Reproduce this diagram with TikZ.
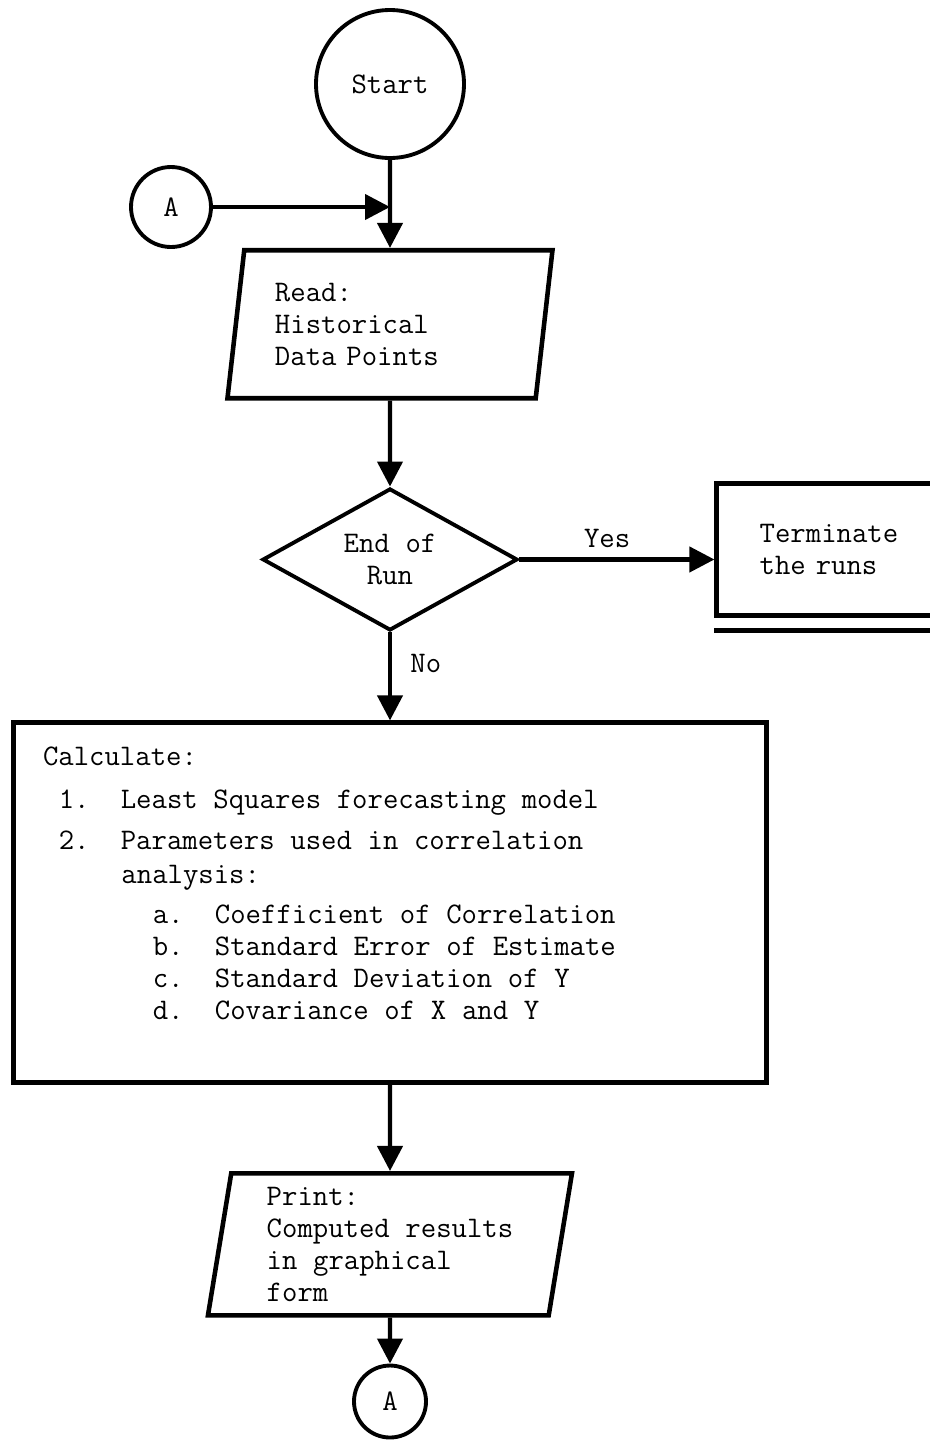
\documentclass[tikz,border=0pt]{standalone}
\usepackage{fontspec}
\usetikzlibrary{arrows.meta,positioning,shapes.geometric}
\newcommand\flowfont{\ttfamily\fontsize{17}{18.2}\selectfont\spaceskip 0.525em\relax}

\begin{document}
\begin{tikzpicture}[
    every node/.style={font=\flowfont},
    box/.style={draw, line width=2.6pt, inner sep=0pt},
    endpoint/.style={circle, draw, line width=2.2pt, inner sep=0pt},
    io/.style={trapezium, trapezium left angle=78.5, trapezium right angle=101.5,
      trapezium stretches body, draw, line width=2.6pt, inner sep=0pt, align=left},
    decision/.style={diamond, draw, line width=2.2pt, inner sep=0pt, aspect=1.8, align=center},
    flow/.style={-{Triangle[length=0.5cm,width=0.5cm]}, line width=2.4pt}
  ]
  \useasboundingbox (0,0) rectangle (18.6,-28.86);
  \clip (0,0) rectangle (18.6,-28.86);

  \node[endpoint, minimum size=2.96cm] (start) at (7.8,-1.68) {Start};
  \node[endpoint, minimum size=1.6cm] (conA) at (3.42,-4.14) {A};
  \node[io, below=1.76cm of start, minimum width=6.5cm, minimum height=2.96cm,
    text width=4.6cm] (read) {Read:\\Historical\\Data Points};
  \node[decision, below=1.72cm of read, minimum width=5.1cm, minimum height=2.84cm] (eor) {End of\\Run};
  \node[box, right=3.9cm of eor, yshift=0.2cm, minimum width=5.76cm, minimum height=2.64cm,
    text width=4.04cm, align=left] (stop) {Terminate\\the runs};
  \node[box, below=1.76cm of eor, minimum width=15.06cm, minimum height=7.2cm] (calc) {};
  \node[anchor=north west, inner sep=0pt, align=left] (calctext)
    at ([xshift=0.63cm, yshift=-0.52cm]calc.north west) {%
    Calculate:\\[0.22cm]
    \hspace*{0.525em}1.\hspace*{1.05em}Least Squares forecasting model\\[0.18cm]
    \hspace*{0.525em}2.\hspace*{1.05em}Parameters used in correlation\\[0.04cm]
    \hspace*{2.625em}analysis:\\[0.16cm]
    \hspace*{3.675em}a.\hspace*{1.05em}Coefficient of Correlation\\
    \hspace*{3.675em}b.\hspace*{1.05em}Standard Error of Estimate\\
    \hspace*{3.675em}c.\hspace*{1.05em}Standard Deviation of Y\\
    \hspace*{3.675em}d.\hspace*{1.05em}Covariance of X and Y};
  \node[io, below=1.72cm of calc, minimum width=7.28cm, minimum height=2.84cm] (print)
    {Print:\\Computed results\\in graphical\\form};
  \node[endpoint, below=0.92cm of print, minimum size=1.44cm] (conB) {A};

  \draw[flow] (start) -- (read);
  \draw[flow] (conA) -- (conA -| start);
  \draw[flow] (read) -- (eor);
  \draw[flow] (eor.east) -- node[above=2pt, pos=0.45]{Yes} (eor.east -| stop.west);
  \draw[line width=2.6pt] ([yshift=-0.26cm]stop.south west) -- ([yshift=-0.26cm]stop.south east);
  \draw[flow] (eor) -- node[right=0.25cm, pos=0.35]{No} (calc);
  \draw[flow] (calc) -- (print);
  \draw[flow] (print) -- (conB);
\end{tikzpicture}
\end{document}
